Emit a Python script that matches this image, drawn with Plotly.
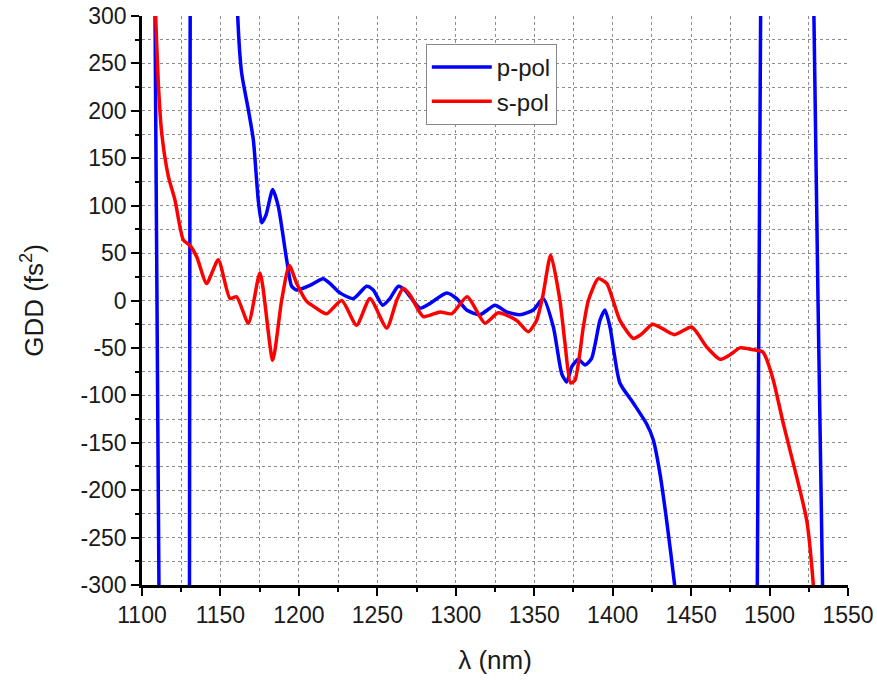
import plotly.graph_objects as go

# p-pol GDD (fs^2) vs wavelength (nm)
p_wl = [1100, 1104, 1107.9, 1111.2, 1116, 1122, 1128, 1130.2, 1130.8, 1134, 1145, 1155,
        1159.5, 1161, 1163.5, 1167.8, 1171, 1174.1, 1176.3, 1179, 1183.3, 1186.9, 1192.2,
        1195.4, 1198.6, 1207, 1215.5, 1219.8, 1226.2, 1234.7, 1243.2, 1247.4, 1253.4, 1258,
        1263.4, 1267.6, 1277.2, 1283.6, 1294.2, 1300.6, 1306.9, 1315.4, 1325, 1332.4, 1340.9,
        1349.4, 1355.8, 1362.2, 1367.5, 1370.7, 1373.9, 1378.1, 1382.4, 1386.6, 1391.9,
        1395.1, 1398.3, 1404.6, 1413.1, 1421.6, 1425.9, 1430.1, 1434.4, 1439.5, 1443, 1460,
        1480, 1488, 1492.0, 1494.5, 1500, 1510, 1520, 1526, 1527.8, 1534.3, 1540, 1550]
p_gdd = [1500, 1330, 396, -396, -1540, -1900, -1200, -400, 400, 1100, 1500, 1000,
         420, 300, 240, 201, 169, 106, 82, 90, 117, 99, 43,
         15, 11, 16, 23, 18, 8, 2, 15, 11, -5, 2,
         15, 11, -8, -3, 8, 2, -10, -15, -5, -12, -15,
         -10, 2, -28, -77, -86, -70, -62, -68, -61, -21,
         -10, -28, -87, -108, -130, -147, -182, -232, -300, -360, -900,
         -1400, -1500, -357, 357, 1800, 2400, 1500, 1000, 355, -355, -1000, -2000]

# s-pol GDD (fs^2) vs wavelength (nm)
s_wl = [1100, 1105, 1108.7, 1110.4, 1112.6, 1116.8, 1121, 1126.3, 1130.6, 1134.9, 1141.2,
        1148.6, 1156.1, 1160.3, 1167.8, 1175.2, 1183.3, 1189, 1193.9, 1198.6, 1205, 1211,
        1217.7, 1227.3, 1236.8, 1245.3, 1256, 1262.3, 1266.5, 1270.8, 1279.3, 1290, 1297.4,
        1307.3, 1318.6, 1327.1, 1338.8, 1346.2, 1351.5, 1355.5, 1360.5, 1366.4, 1369.6,
        1373.2, 1376, 1381.3, 1384.5, 1390.8, 1396.2, 1404.6, 1413.1, 1418, 1425.5, 1432,
        1439.5, 1450.4, 1459.9, 1468.4, 1475, 1481.1, 1490, 1495.5, 1497.1, 1502.4, 1508.8,
        1517.3, 1523.7, 1527.9, 1530, 1540, 1550]
s_gdd = [700, 450, 300, 229, 176, 131, 106, 64, 58, 46, 18,
         43, 2, 4, -24, 29, -63, 0, 37, 18, -1, -8,
         -14, 0, -26, 2, -29, 0, 13, 6, -17, -12, -14,
         4, -24, -13, -21, -33, -21, 5, 48, 0, -45,
         -87, -84, -28, 0, 23, 18, -21, -40, -36, -25, -30,
         -36, -28, -49, -62, -57, -50, -52, -54, -58, -84, -130,
         -186, -232, -300, -360, -650, -1000]

x_ticks = [1100, 1150, 1200, 1250, 1300, 1350, 1400, 1450, 1500, 1550]
y_ticks = [-300, -250, -200, -150, -100, -50, 0, 50, 100, 150, 200, 250, 300]
y_tick_labels = ["-300", "-250", "-200", "-150", "-100", "-50", "0",
                 "50", "100", "150", "200", "250", "300"]

FONT = "Liberation Sans, Arial, sans-serif"

fig = go.Figure()
fig.add_trace(go.Scatter(x=p_wl, y=p_gdd, mode="lines", name="p-pol",
                         line=dict(color="#0000FF", width=3.5, shape="spline", smoothing=0.6)))
fig.add_trace(go.Scatter(x=s_wl, y=s_gdd, mode="lines", name="s-pol",
                         line=dict(color="#FF0000", width=3.5, shape="spline", smoothing=0.6)))

grid = dict(showgrid=True, gridcolor="#8c8c8c", griddash="dot", gridwidth=1)

fig.update_layout(
    width=877, height=680,
    margin=dict(l=142, r=29, t=16, b=95),
    paper_bgcolor="white", plot_bgcolor="white",
    font=dict(family=FONT, size=23, color="#1a1a1a"),
    showlegend=True,
    legend=dict(x=0.402, y=0.951, xanchor="left", yanchor="top",
                bgcolor="white", bordercolor="#888888", borderwidth=1,
                font=dict(family=FONT, size=24, color="#1a1a1a"),
                itemwidth=60, tracegroupgap=0),
    xaxis=dict(range=[1100, 1550], tickvals=x_ticks, ticks="outside", ticklen=8,
               tickwidth=2, tickcolor="black", showline=True, linecolor="black",
               linewidth=2.5, zeroline=False, automargin=False,
               minor=dict(dtick=25, tick0=1100, ticks="outside", ticklen=4, tickwidth=2,
                          tickcolor="black", **grid),
               title=dict(text="λ (nm)", standoff=24, font=dict(size=26)),
               **grid),
    yaxis=dict(range=[-300, 300], tickvals=y_ticks, ticktext=y_tick_labels,
               ticks="outside", ticklen=8,
               tickwidth=2, tickcolor="black", showline=True, linecolor="black",
               linewidth=2.5, zeroline=False, automargin=False,
               minor=dict(dtick=25, tick0=-300, ticks="outside", ticklen=4, tickwidth=2,
                          tickcolor="black", **grid),
               title=dict(text="GDD (fs<sup>2</sup>)", standoff=30, font=dict(size=26)),
               **grid),
    xaxis2=dict(range=[1100, 1550], overlaying="x", side="top", anchor="y",
                tickvals=x_ticks, ticks="inside", ticklen=8, tickwidth=2, tickcolor="black",
                showticklabels=False, showline=True, linecolor="black", linewidth=2.5,
                showgrid=False, zeroline=False, automargin=False,
                minor=dict(dtick=25, tick0=1100, ticks="inside", ticklen=4, tickwidth=2,
                           tickcolor="black", showgrid=False)),
    yaxis2=dict(range=[-300, 300], overlaying="y", side="right", anchor="x",
                tickvals=y_ticks, ticks="inside", ticklen=8, tickwidth=2, tickcolor="black",
                showticklabels=False, showline=True, linecolor="black", linewidth=2.5,
                showgrid=False, zeroline=False, automargin=False,
                minor=dict(dtick=25, tick0=-300, ticks="inside", ticklen=4, tickwidth=2,
                           tickcolor="black", showgrid=False)),
)

fig.write_html(
    "out.html",
    config={"displayModeBar": False},
    post_script="document.body.style.margin='0';document.body.style.overflow='hidden';",
)
